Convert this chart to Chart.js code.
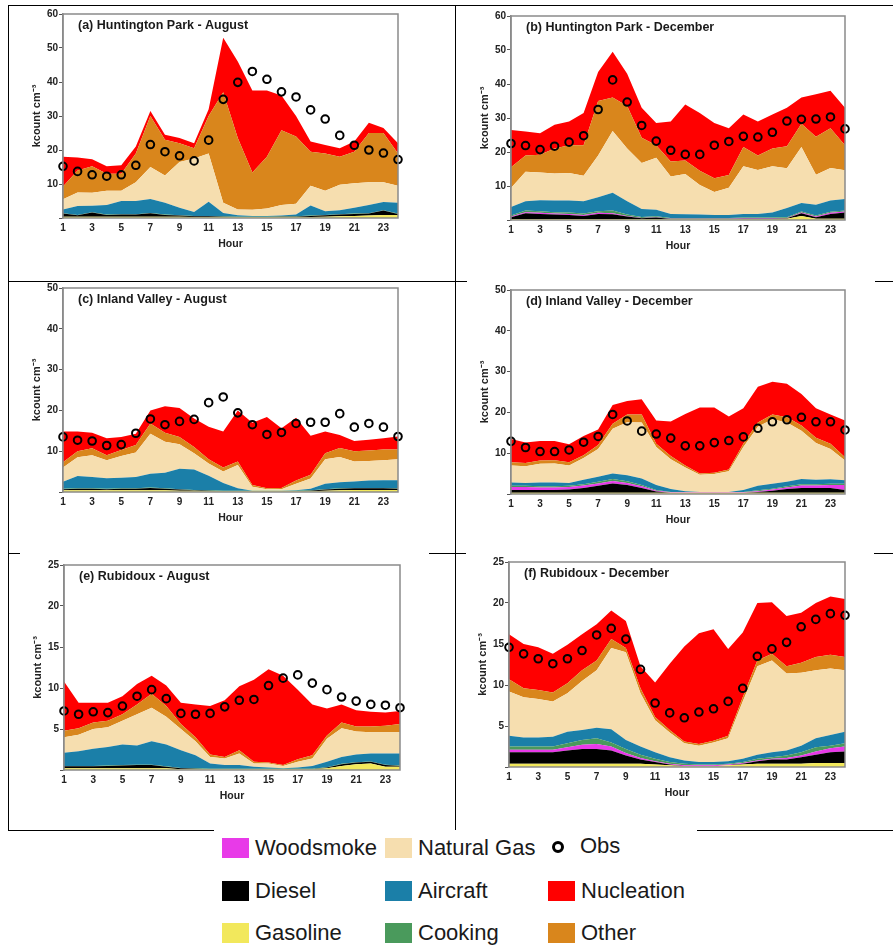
<!DOCTYPE html>
<html>
<head>
<meta charset="utf-8">
<script src="https://cdn.jsdelivr.net/npm/chart.js@4.4.0/dist/chart.umd.min.js"></script>
<style>
body { margin: 0; background: #fff; width: 893px; height: 946px; position: relative; overflow: hidden; font-family: "Liberation Sans", Arial, sans-serif; }
.ln { position: absolute; background: #000; }
canvas { position: absolute; }
.sw { position: absolute; width: 27px; height: 20px; }
.lt { position: absolute; font-size: 22px; color: #1a1a1a; line-height: 26px; }
.obsdot { position: absolute; width: 6px; height: 6px; border: 3px solid #000; border-radius: 50%; }
</style>
</head>
<body>
<!-- frame lines -->
<div class="ln" style="left:8px;top:5px;width:885px;height:1px"></div>
<div class="ln" style="left:8px;top:5px;width:1px;height:825px"></div>
<div class="ln" style="left:455px;top:5px;width:1px;height:825px"></div>
<div class="ln" style="left:8px;top:281px;width:459px;height:1px"></div>
<div class="ln" style="left:875px;top:281px;width:18px;height:1px"></div>
<div class="ln" style="left:8px;top:553px;width:12px;height:1px"></div>
<div class="ln" style="left:429px;top:553px;width:37px;height:1px"></div>
<div class="ln" style="left:874px;top:553px;width:19px;height:1px"></div>
<div class="ln" style="left:8px;top:830px;width:206px;height:1px"></div>
<div class="ln" style="left:697px;top:830px;width:196px;height:1px"></div>

<canvas id="pa"></canvas>
<canvas id="pb"></canvas>
<canvas id="pc"></canvas>
<canvas id="pd"></canvas>
<canvas id="pe"></canvas>
<canvas id="pf"></canvas>

<!-- legend -->
<div class="sw" style="left:222px;top:838px;background:#e83ae8"></div><div class="lt" style="left:255px;top:835px">Woodsmoke</div>
<div class="sw" style="left:385px;top:838px;background:#f6deaf"></div><div class="lt" style="left:418px;top:835px">Natural Gas</div>
<div class="obsdot" style="left:552px;top:841px"></div><div class="lt" style="left:580px;top:833px">Obs</div>
<div class="sw" style="left:222px;top:881px;background:#000"></div><div class="lt" style="left:255px;top:878px">Diesel</div>
<div class="sw" style="left:385px;top:881px;background:#1b7fa8"></div><div class="lt" style="left:418px;top:878px">Aircraft</div>
<div class="sw" style="left:548px;top:881px;background:#ff0000"></div><div class="lt" style="left:581px;top:878px">Nucleation</div>
<div class="sw" style="left:222px;top:923px;background:#f2e85c"></div><div class="lt" style="left:255px;top:920px">Gasoline</div>
<div class="sw" style="left:385px;top:923px;background:#4a9a5c"></div><div class="lt" style="left:418px;top:920px">Cooking</div>
<div class="sw" style="left:548px;top:923px;background:#d9861c"></div><div class="lt" style="left:581px;top:920px">Other</div>

<script>
// hours on the x axis
var hours = ['1','2','3','4','5','6','7','8','9','10','11','12','13','14','15','16','17','18','19','20','21','22','23','24'];

// source order, bottom of the stack first
var sourceNames = ['Gasoline', 'Diesel', 'Woodsmoke', 'Cooking', 'Aircraft', 'Natural Gas', 'Other', 'Nucleation'];
var sourceColors = ['#f2e85c', '#000000', '#e83ae8', '#4a9a5c', '#1b7fa8', '#f6deaf', '#d9861c', '#ff0000'];

// (a) Huntington Park - August
var aGasoline = [0.4,0.4,0.4,0.4,0.4,0.4,0.4,0.4,0.4,0.3,0.3,0.3,0.3,0.3,0.3,0.3,0.3,0.3,0.4,0.5,0.6,0.7,0.9,0.9];
var aDiesel = [0.9,0.4,1.2,0.5,0.6,0.6,1.0,0.5,0.3,0.2,0.2,0.1,0,0,0,0.1,0.1,0.3,0.4,0.5,0.6,0.6,1.3,0.3];
var aWoodsmoke = [0,0,0,0,0,0,0,0,0,0,0,0,0,0,0,0,0,0,0,0,0,0,0,0];
var aCooking = [0.1,0.1,0.1,0.1,0.1,0.1,0.1,0.1,0.1,0.1,0.1,0.1,0.1,0.1,0.1,0.1,0.1,0.1,0.1,0.1,0.1,0.1,0.1,0.1];
var aAircraft = [1.1,2.6,1.9,2.8,3.9,3.9,4.1,3.5,2.2,1.2,4.2,1.0,0.4,0.2,0.2,0.2,0.5,3.0,1.1,1.2,1.7,2.4,2.4,3.2];
var aNaturalGas = [3.0,4.0,3.8,4.2,3.0,5.5,9.4,8.0,13.5,15.7,14.2,3.0,1.7,1.8,2.2,3.1,3.2,5.8,6.0,7.5,7.2,6.7,5.8,5.0];
var aOther = [3.8,6.5,7.8,5.0,5.0,8.5,15.0,10.5,5.5,3.0,11.0,32.5,21.0,11.0,15.2,22.0,19.8,10.0,11.0,8.2,9.3,14.5,14.5,9.5];
var aNucleation = [8.7,3.8,2.1,2.2,2.5,2.0,1.5,1.5,1.5,1.5,2.0,16.0,22.5,24.1,19.5,10.2,6.0,3.0,2.5,2.5,3.0,3.0,1.5,3.0];
var aObs = [15.2,13.7,12.7,12.3,12.7,15.5,21.6,19.5,18.3,16.8,22.9,34.9,39.9,43.1,40.8,37.1,35.6,31.8,29.1,24.3,21.4,20.0,19.1,17.2];

// (b) Huntington Park - December
var bGasoline = [0.3,0.3,0.3,0.3,0.3,0.3,0.3,0.3,0.3,0.3,0.3,0.2,0.2,0.2,0.2,0.2,0.3,0.3,0.3,0.4,1.2,0.4,0.4,0.4];
var bDiesel = [0.5,1.7,1.5,1.3,1.2,0.9,1.5,1.4,0.7,0.2,0.4,0.1,0.1,0.1,0.1,0.1,0.1,0.1,0.1,0.1,0.8,0.4,1.4,1.8];
var bWoodsmoke = [0.2,0.3,0.3,0.3,0.3,0.3,0.3,0.3,0.2,0.1,0.1,0.1,0.1,0.1,0.1,0.1,0.1,0.1,0.1,0.1,0.2,0.2,0.3,0.3];
var bCooking = [0.3,0.5,0.5,0.4,0.4,0.4,0.5,0.8,0.4,0.3,0.3,0.2,0.2,0.2,0.2,0.2,0.2,0.2,0.2,0.2,0.3,0.3,0.3,0.3];
var bAircraft = [2.5,2.7,3.2,3.4,3.5,3.6,4.1,5.2,3.9,2.3,1.9,1.2,1.1,1.0,0.9,0.9,1.1,1.1,1.5,2.7,2.5,3.2,3.3,3.4];
var bNaturalGas = [5.6,8.7,8.2,8.0,8.1,7.5,12.3,18.2,15.5,13.6,15.3,11.0,11.8,8.7,6.7,8.0,14.0,12.9,13.6,11.7,16.5,8.8,9.6,8.4];
var bOther = [6.1,4.8,5.2,7.3,8.2,9.0,16.0,9.8,12.5,7.4,3.7,4.4,4.0,4.2,4.1,3.7,5.7,4.3,5.2,6.5,6.8,11.2,11.7,7.4];
var bNucleation = [11.0,7.0,6.3,7.0,7.0,9.5,8.5,13.5,9.5,8.8,6.5,11.8,16.5,17.0,16.2,13.8,9.5,10.0,10.0,11.3,7.7,12.5,11.0,11.0];
var bObs = [22.5,21.9,20.7,21.7,22.9,24.8,32.5,41.2,34.7,27.8,23.2,20.5,19.3,19.3,22.0,23.1,24.6,24.4,25.8,29.1,29.6,29.7,30.3,26.8];

// (c) Inland Valley - August
var cGasoline = [0.4,0.4,0.4,0.4,0.4,0.4,0.4,0.4,0.3,0.3,0.2,0.2,0.2,0.2,0.2,0.2,0.2,0.2,0.3,0.4,0.5,0.5,0.5,0.5];
var cDiesel = [0.3,0.4,0.4,0.3,0.4,0.4,0.6,0.4,0.3,0.1,0.1,0,0,0,0,0,0,0.1,0.3,0.4,0.4,0.4,0.4,0.3];
var cWoodsmoke = [0,0,0,0,0,0,0,0,0,0,0,0,0,0,0,0,0,0,0,0,0,0,0,0];
var cCooking = [0.1,0.1,0.1,0.1,0.1,0.1,0.1,0.1,0.1,0.1,0.1,0.1,0.1,0.1,0.1,0.1,0.1,0.1,0.1,0.1,0.1,0.1,0.1,0.1];
var cAircraft = [1.7,3.0,2.8,2.6,2.6,2.8,3.4,3.8,5.0,5.0,3.6,1.9,0.6,0,0,0,0.1,0.4,1.3,1.5,1.6,1.8,1.9,2.0];
var cNaturalGas = [3.5,4.6,5.3,4.4,5.3,6.0,9.8,7.6,6.0,4.0,3.0,2.8,5.7,1.0,0.4,0.4,1.6,2.5,6.0,6.2,4.9,4.8,4.9,5.1];
var cOther = [1.3,1.5,1.7,1.2,1.5,1.8,2.5,2.2,1.8,1.5,1.0,1.0,0.9,0.4,0.2,0.3,0.8,0.9,1.5,2.2,2.5,2.6,2.6,2.4];
var cNucleation = [7.5,4.8,3.8,4.2,3.2,2.8,3.2,6.5,7.1,7.0,8.0,8.8,12.5,15.3,17.5,14.6,15.4,9.6,5.3,3.2,2.5,2.6,2.8,3.2];
var cObs = [13.5,12.7,12.5,11.4,11.6,14.4,17.9,16.5,17.3,17.8,21.9,23.3,19.4,16.5,14.1,14.6,16.8,17.1,17.1,19.2,15.9,16.8,15.9,13.6];

// (d) Inland Valley - December
var dGasoline = [0.3,0.3,0.3,0.3,0.3,0.3,0.3,0.3,0.3,0.3,0.3,0.3,0.3,0.3,0.3,0.3,0.3,0.3,0.3,0.3,0.3,0.3,0.3,0.3];
var dDiesel = [0.7,0.7,0.7,0.7,0.8,1.2,1.7,2.3,1.9,1.2,0.3,0,0,0,0,0,0,0.2,0.5,0.9,1.2,1.2,1.2,0.7];
var dWoodsmoke = [0.7,0.7,0.6,0.6,0.6,0.6,0.6,0.6,0.5,0.4,0.2,0.1,0.1,0.1,0.1,0.1,0.1,0.2,0.3,0.4,0.6,0.6,0.7,1.2];
var dCooking = [0.3,0.3,0.3,0.3,0.3,0.3,0.4,0.5,0.4,0.3,0.2,0.1,0.1,0.1,0.1,0.1,0.1,0.2,0.2,0.3,0.3,0.3,0.3,0.3];
var dAircraft = [0.8,0.7,0.9,0.9,0.7,1.1,1.2,1.3,1.5,1.6,1.2,0.7,0.2,0,0,0,0.5,1.1,1.2,1.1,1.3,1.1,1.1,0.9];
var dNaturalGas = [4.2,4.1,4.6,4.7,4.3,5.3,6.8,11.0,13.0,13.7,9.3,7.3,5.8,4.2,4.4,5.1,10.5,14.5,15.8,14.5,11.8,9.0,7.4,4.8];
var dOther = [0.8,0.8,0.8,0.8,0.8,0.7,1.0,1.2,1.9,2.0,0.8,0.8,0.5,0.3,0.3,0.4,0.8,1.0,1.2,1.3,1.3,1.3,1.3,0.8];
var dNucleation = [5.7,5.0,4.8,4.7,4.4,4.7,3.8,4.6,3.3,3.7,5.7,8.5,12.6,16.2,16.0,13.0,8.7,8.8,8.0,8.2,7.7,7.2,7.2,9.0];
var dObs = [12.9,11.4,10.4,10.4,10.8,12.7,14.1,19.5,17.9,15.4,14.7,13.7,11.8,11.8,12.6,13.1,14.0,16.1,17.7,18.2,18.8,17.7,17.7,15.7];

// (e) Rubidoux - August
var eGasoline = [0.2,0.2,0.2,0.2,0.2,0.2,0.2,0.2,0.1,0.1,0.1,0.1,0.1,0.1,0.1,0.1,0.1,0.1,0.2,0.5,0.7,0.8,0.4,0.4];
var eDiesel = [0.25,0.25,0.25,0.3,0.35,0.4,0.4,0.2,0.1,0.05,0,0,0,0,0,0,0,0,0.1,0.2,0.2,0.2,0.2,0.1];
var eWoodsmoke = [0,0,0,0,0,0,0,0,0,0,0,0,0,0,0,0,0,0,0,0,0,0,0,0];
var eCooking = [0.05,0.05,0.05,0.05,0.05,0.05,0.05,0.05,0.05,0.05,0.05,0.05,0.05,0.05,0.05,0.05,0.05,0.05,0.05,0.05,0.05,0.05,0.05,0.05];
var eAircraft = [1.6,1.8,2.1,2.25,2.5,2.35,2.85,2.65,2.15,1.6,0.65,0.45,0.45,0.25,0.15,0.05,0.15,0.35,0.65,0.85,0.95,0.95,1.35,1.45];
var eNaturalGas = [1.9,2.0,2.4,2.4,2.9,3.8,4.1,3.4,2.6,1.7,0.8,0.8,1.4,0.4,0.5,0.3,0.7,0.9,2.8,3.5,2.8,2.6,2.6,2.6];
var eOther = [0.8,0.8,0.8,0.8,0.8,1.2,1.7,1.3,0.6,0.5,0.3,0.2,0.4,0.2,0.1,0.1,0.3,0.4,0.4,0.7,0.6,0.7,0.8,1.0];
var eNucleation = [6.0,3.1,2.4,2.2,2.2,2.5,2.2,2.5,2.6,4.0,5.9,6.9,7.8,10.0,11.4,10.9,8.5,6.2,3.3,2.2,2.0,1.8,1.6,1.6];
var eObs = [7.2,6.8,7.1,7.0,7.8,9.0,9.8,8.7,6.9,6.8,6.9,7.7,8.5,8.6,10.3,11.2,11.6,10.6,9.8,8.9,8.4,8.0,7.9,7.6];

// (f) Rubidoux - December
var fGasoline = [0.4,0.4,0.4,0.4,0.4,0.4,0.4,0.4,0.4,0.4,0.3,0.2,0.1,0.1,0.1,0.2,0.3,0.4,0.4,0.4,0.4,0.5,0.5,0.5];
var fDiesel = [1.4,1.4,1.4,1.4,1.6,1.8,1.8,1.6,1.0,0.5,0.3,0.1,0,0,0,0,0.1,0.3,0.5,0.5,0.8,1.0,1.3,1.4];
var fWoodsmoke = [0.3,0.3,0.3,0.3,0.4,0.5,0.6,0.5,0.3,0.2,0.1,0.1,0.1,0.1,0.1,0.1,0.1,0.1,0.1,0.2,0.2,0.4,0.5,0.6];
var fCooking = [0.4,0.4,0.4,0.4,0.5,0.6,0.7,0.5,0.5,0.4,0.3,0.2,0.2,0.1,0.1,0.1,0.1,0.2,0.2,0.3,0.4,0.5,0.3,0.4];
var fAircraft = [1.3,1.1,1.1,1.2,1.4,1.2,1.3,1.6,1.1,1.0,0.8,0.6,0.4,0.3,0.3,0.3,0.4,0.5,0.6,0.6,0.8,1.1,1.3,1.4];
var fNaturalGas = [5.4,4.9,4.7,4.3,4.7,6.0,7.0,9.9,10.7,6.5,3.9,3.0,2.1,2.0,2.4,2.8,7.0,10.8,11.2,9.4,8.9,8.3,8.1,7.5];
var fOther = [1.5,1.1,1.1,1.1,1.2,1.3,1.2,1.1,0.5,0.6,0.4,0.3,0.2,0.2,0.2,0.3,0.5,0.7,0.8,0.9,1.2,1.6,1.7,1.6];
var fNucleation = [5.5,5.4,5.2,4.7,4.7,4.4,4.4,3.5,3.3,2.7,4.2,8.1,11.6,13.5,13.6,10.6,7.9,7.0,6.3,6.1,6.1,6.6,7.1,7.1];
var fObs = [14.6,13.8,13.2,12.6,13.2,14.2,16.1,16.9,15.6,11.9,7.8,6.6,6.0,6.7,7.1,8.0,9.6,13.5,14.4,15.2,17.1,18.0,18.7,18.5];

// plot box and panel label
var panelDecor = {
    id: 'panelDecor',
    afterDraw: function(chart) {
        var a = chart.chartArea, ctx = chart.ctx;
        ctx.save();
        ctx.strokeStyle = '#8a8a8a';
        ctx.lineWidth = 1.5;
        ctx.strokeRect(a.left, a.top, a.right - a.left, a.bottom - a.top);
        ctx.fillStyle = '#1a1a1a';
        ctx.font = 'bold 12.5px "Liberation Sans", Arial, sans-serif';
        ctx.textBaseline = 'alphabetic';
        ctx.fillText(chart.options.plugins.panelDecor.label, a.left + 15, a.top + 15);
        ctx.restore();
    }
};

function makePanel(id, rect, label, ymax, step, series, obs) {
    var cv = document.getElementById(id);
    // rect = plot area [left, top, right, bottom] on the page
    var w = rect[2] - rect[0] + 70, h = rect[3] - rect[1] + 52;
    cv.width = w; cv.height = h;
    cv.style.left = (rect[0] - 50) + 'px';
    cv.style.top = (rect[1] - 10) + 'px';
    cv.style.width = w + 'px'; cv.style.height = h + 'px';

    var datasets = [{
        label: 'Obs',
        data: obs,
        stack: 'obs',
        showLine: false,
        pointStyle: 'circle',
        pointRadius: 3.8,
        pointBorderWidth: 2,
        pointBorderColor: '#000',
        pointBackgroundColor: 'rgba(0,0,0,0)',
        fill: false
    }];
    for (var i = 0; i < series.length; i++) {
        datasets.push({
            label: sourceNames[i],
            data: series[i],
            backgroundColor: sourceColors[i],
            borderColor: sourceColors[i],
            borderWidth: 0,
            pointRadius: 0,
            tension: 0,
            fill: i === 0 ? 'origin' : '-1'
        });
    }

    return new Chart(cv, {
        type: 'line',
        data: { labels: hours, datasets: datasets },
        options: {
            responsive: false,
            animation: false,
            devicePixelRatio: 1,
            layout: { padding: { left: 17, top: 10, right: 20, bottom: 10 } },
            plugins: {
                legend: { display: false },
                tooltip: { enabled: false },
                panelDecor: { label: label }
            },
            scales: {
                x: {
                    offset: false,
                    grid: { display: false, drawTicks: false },
                    border: { display: false },
                    ticks: {
                        autoSkip: false, maxRotation: 0, padding: 4,
                        color: '#222',
                        font: { family: '"Liberation Sans", Arial', size: 10, weight: 'bold' },
                        callback: function(v, idx) { return idx % 2 === 0 ? hours[idx] : ''; }
                    },
                    title: {
                        display: true, text: 'Hour', color: '#222', padding: 0,
                        font: { family: '"Liberation Sans", Arial', size: 10.5, weight: 'bold' }
                    },
                    afterFit: function(s) { s.height = 32; }
                },
                y: {
                    stacked: true,
                    min: 0, max: ymax,
                    ticks: {
                        stepSize: step, padding: 1, color: '#222',
                        font: { family: '"Liberation Sans", Arial', size: 10, weight: 'bold' },
                        callback: function(v) { return v === 0 ? '' : v; }
                    },
                    grid: { drawOnChartArea: false, drawTicks: true, tickLength: 4, color: '#555' },
                    border: { display: true, color: '#8a8a8a', width: 1.5 },
                    title: {
                        display: true, text: 'kcount cm\u207B\u00B3', color: '#222', padding: 0,
                        font: { family: '"Liberation Sans", Arial', size: 11, weight: 'bold' }
                    },
                    afterFit: function(s) { s.width = 33; }
                }
            }
        },
        plugins: [panelDecor]
    });
}

window.onload = function() {
    makePanel('pa', [63, 14, 398, 218], '(a) Huntington Park - August', 60, 10,
        [aGasoline, aDiesel, aWoodsmoke, aCooking, aAircraft, aNaturalGas, aOther, aNucleation], aObs);
    makePanel('pb', [511, 16, 845, 220], '(b) Huntington Park - December', 60, 10,
        [bGasoline, bDiesel, bWoodsmoke, bCooking, bAircraft, bNaturalGas, bOther, bNucleation], bObs);
    makePanel('pc', [63, 288, 398, 492], '(c) Inland Valley - August', 50, 10,
        [cGasoline, cDiesel, cWoodsmoke, cCooking, cAircraft, cNaturalGas, cOther, cNucleation], cObs);
    makePanel('pd', [511, 290, 845, 494], '(d) Inland Valley - December', 50, 10,
        [dGasoline, dDiesel, dWoodsmoke, dCooking, dAircraft, dNaturalGas, dOther, dNucleation], dObs);
    makePanel('pe', [64, 565, 400, 770], '(e) Rubidoux - August', 25, 5,
        [eGasoline, eDiesel, eWoodsmoke, eCooking, eAircraft, eNaturalGas, eOther, eNucleation], eObs);
    makePanel('pf', [509, 562, 845, 767], '(f) Rubidoux - December', 25, 5,
        [fGasoline, fDiesel, fWoodsmoke, fCooking, fAircraft, fNaturalGas, fOther, fNucleation], fObs);
};
</script>
</body>
</html>
